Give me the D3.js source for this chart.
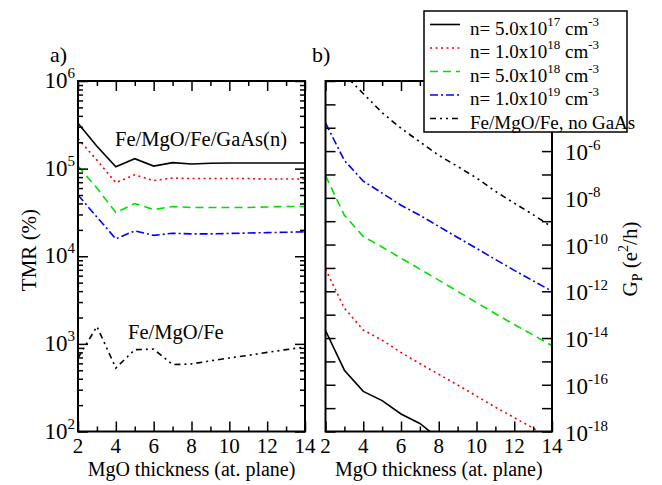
<!DOCTYPE html>
<html>
<head>
<meta charset="utf-8">
<script src="https://cdnjs.cloudflare.com/ajax/libs/d3/7.8.5/d3.min.js"></script>
<style>
body { margin: 0; background: #fff; }
svg text { font-family: "Liberation Serif", "Times New Roman", Times, "DejaVu Serif", serif; }
</style>
</head>
<body>
<svg id="chart" width="662" height="485"></svg>
<script>
// MgO thickness (atomic planes)
var thickness = [2, 3, 4, 5, 6, 7, 8, 9, 10, 11, 12, 13, 14];

// panel a) TMR (%)
var tmr5e17 = [3.3e5, 1.8e5, 1.05e5, 1.3e5, 1.07e5, 1.17e5, 1.13e5, 1.15e5, 1.16e5, 1.16e5, 1.16e5, 1.16e5, 1.16e5];
var tmr1e18 = [2.2e5, 1.25e5, 6.9e4, 8.5e4, 7.3e4, 7.8e4, 7.7e4, 7.7e4, 7.7e4, 7.7e4, 7.6e4, 7.6e4, 7.6e4];
var tmr5e18 = [1.07e5, 6.0e4, 3.15e4, 4.0e4, 3.4e4, 3.7e4, 3.6e4, 3.6e4, 3.6e4, 3.6e4, 3.65e4, 3.7e4, 3.7e4];
var tmr1e19 = [5.0e4, 2.8e4, 1.58e4, 1.95e4, 1.73e4, 1.83e4, 1.8e4, 1.8e4, 1.82e4, 1.84e4, 1.86e4, 1.88e4, 1.9e4];
var tmrNoGaAs = [690, 1580, 530, 860, 870, 580, 590, 640, 690, 740, 800, 860, 920];

// panel b) G_P (e^2/h)
var gp5e17 = [2.1e-14, 4.2e-16, 5.2e-17, 2.1e-17, 5.6e-18, 2.2e-18, 5.0e-19, null, null, null, null, null, null];
var gp1e18 = [8.9e-12, 1.9e-13, 2.2e-14, 8.1e-15, 2.4e-15, 8.1e-16, 2.8e-16, 9.8e-17, 3.3e-17, 1.1e-17, 3.9e-18, 1.4e-18, 4.7e-19];
var gp5e18 = [8.9e-8, 1.8e-9, 2.2e-10, 7.9e-11, 2.6e-11, 8.9e-12, 3.0e-12, 1.0e-12, 3.3e-13, 1.1e-13, 3.8e-14, 1.35e-14, 4.7e-15];
var gp1e19 = [1.6e-5, 4.0e-7, 5.2e-8, 1.6e-8, 4.8e-9, 1.8e-9, 6.0e-10, 2.0e-10, 6.9e-11, 2.3e-11, 7.9e-12, 2.8e-12, 1.0e-12];
var gpNoGaAs = [null, 1.9e-3, 2.9e-4, 4.4e-5, 9.5e-6, 2.5e-6, 6.6e-7, 2.2e-7, 7.1e-8, 1.9e-8, 5.9e-9, 1.9e-9, 5.6e-10];

// legend text: mantissa, exponent
var legendN = [["5.0", "17"], ["1.0", "18"], ["5.0", "18"], ["1.0", "19"]];
var xTicks = [2, 4, 6, 8, 10, 12, 14];
var xMinor = [3, 5, 7, 9, 11, 13];
var tmrTicks = [2, 3, 4, 5, 6];
// 10^-4 sits under the legend, so it is not labelled
var gpTicks = [-6, -8, -10, -12, -14, -16, -18];

var styles = [
    {color: "#000000", dash: null},
    {color: "#ff0000", dash: "2,3.5"},
    {color: "#00e000", dash: "8,5"},
    {color: "#0000ff", dash: "8,3,2,3"},
    {color: "#000000", dash: "6,4,2,4,2,4"}
];

var svg = d3.select("#chart");

var xA = d3.scaleLinear().domain([2, 14]).range([78, 305]);
var yA = d3.scaleLog().domain([1e2, 1e6]).range([431.5, 81]);
var xB = d3.scaleLinear().domain([2, 14]).range([325.5, 552]);
var yB = d3.scaleLog().domain([1e-18, 1e-3]).range([431.5, 81]);

function drawFrame(x, y, minorY) {
    var l = x.range()[0], r = x.range()[1], t = y.range()[1], b = y.range()[0];
    var g = svg.append("g");

    // x ticks top and bottom
    g.append("g").attr("transform", "translate(0," + b + ")")
        .call(d3.axisBottom(x).tickValues(xTicks).tickSize(-10).tickFormat(""));
    g.append("g").attr("transform", "translate(0," + b + ")")
        .call(d3.axisBottom(x).tickValues(xMinor).tickSize(-5).tickFormat(""));
    g.append("g").attr("transform", "translate(0," + t + ")")
        .call(d3.axisTop(x).tickValues(xTicks).tickSize(-10).tickFormat(""));
    g.append("g").attr("transform", "translate(0," + t + ")")
        .call(d3.axisTop(x).tickValues(xMinor).tickSize(-5).tickFormat(""));

    // y ticks, decades big, others small
    var all = y.ticks(40);
    var major = all.filter(function (d) { return Math.abs(Math.log10(d) - Math.round(Math.log10(d))) < 1e-6; });
    var minor = minorY ? all.filter(function (d) { return major.indexOf(d) < 0; }) : [];
    g.append("g").attr("transform", "translate(" + l + ",0)")
        .call(d3.axisLeft(y).tickValues(major).tickSize(-10).tickFormat(""));
    g.append("g").attr("transform", "translate(" + l + ",0)")
        .call(d3.axisLeft(y).tickValues(minor).tickSize(-5).tickFormat(""));
    g.append("g").attr("transform", "translate(" + r + ",0)")
        .call(d3.axisRight(y).tickValues(major).tickSize(-10).tickFormat(""));
    g.append("g").attr("transform", "translate(" + r + ",0)")
        .call(d3.axisRight(y).tickValues(minor).tickSize(-5).tickFormat(""));

    g.selectAll(".domain").remove();
    g.selectAll(".tick line").attr("stroke", "#000").attr("stroke-width", 1.5);

    // x labels
    svg.append("g").selectAll("text").data(xTicks).enter().append("text")
        .attr("x", function (d) { return x(d); })
        .attr("y", 453)
        .attr("text-anchor", "middle")
        .attr("font-size", 21)
        .text(function (d) { return d; });

    svg.append("text")
        .attr("x", (l + r) / 2).attr("y", 476)
        .attr("text-anchor", "middle").attr("font-size", 20)
        .text("MgO thickness (at. plane)");

    return g;
}

function powerLabel(g, px, py, anchor, exp) {
    var t = g.append("text")
        .attr("x", px).attr("y", py)
        .attr("text-anchor", anchor)
        .attr("font-size", 23);
    t.append("tspan").text("10");
    t.append("tspan").attr("dy", -10).attr("font-size", 15).text(exp);
}

function drawSeries(x, y, values, style, clipId) {
    var line = d3.line()
        .defined(function (d) { return d !== null; })
        .x(function (d, i) { return x(thickness[i]); })
        .y(function (d) { return y(d); });
    svg.append("path")
        .datum(values)
        .attr("clip-path", clipId ? "url(#" + clipId + ")" : null)
        .attr("fill", "none")
        .attr("stroke", style.color)
        .attr("stroke-width", 1.6)
        .attr("stroke-dasharray", style.dash)
        .attr("d", line);
}

// clip for panel b
svg.append("defs").append("clipPath").attr("id", "clipB")
    .append("rect").attr("x", 325.5).attr("y", 81).attr("width", 226.5).attr("height", 350.5);

// ---- panel a ----
var seriesA = [tmr5e17, tmr1e18, tmr5e18, tmr1e19, tmrNoGaAs];
for (var i = 0; i < seriesA.length; i++) {
    drawSeries(xA, yA, seriesA[i], styles[i], null);
}
drawFrame(xA, yA, true);
svg.append("rect").attr("x", 78).attr("y", 81).attr("width", 227).attr("height", 350.5)
    .attr("fill", "none").attr("stroke", "#000").attr("stroke-width", 2);

var labelsA = svg.append("g");
tmrTicks.forEach(function (e) {
    powerLabel(labelsA, 75, yA(Math.pow(10, e)) + 7, "end", e);
});

svg.append("text").attr("transform", "translate(36,250) rotate(-90)")
    .attr("text-anchor", "middle").attr("font-size", 21).text("TMR (%)");
svg.append("text").attr("x", 115).attr("y", 146).attr("font-size", 20.5).text("Fe/MgO/Fe/GaAs(n)");
svg.append("text").attr("x", 128).attr("y", 339).attr("font-size", 20.5).text("Fe/MgO/Fe");
svg.append("text").attr("x", 50).attr("y", 62).attr("font-size", 22).text("a)");

// ---- panel b ----
var seriesB = [gp5e17, gp1e18, gp5e18, gp1e19, gpNoGaAs];
for (var j = 0; j < seriesB.length; j++) {
    drawSeries(xB, yB, seriesB[j], styles[j], "clipB");
}
drawFrame(xB, yB, false);
svg.append("rect").attr("x", 325.5).attr("y", 81).attr("width", 226.5).attr("height", 350.5)
    .attr("fill", "none").attr("stroke", "#000").attr("stroke-width", 2);

var labelsB = svg.append("g");
gpTicks.forEach(function (e) {
    powerLabel(labelsB, 565, yB(Math.pow(10, e)) + 9, "start", e);
});

var gpLabel = svg.append("text").attr("transform", "translate(637,259) rotate(-90)")
    .attr("text-anchor", "middle").attr("font-size", 21);
gpLabel.append("tspan").text("G");
gpLabel.append("tspan").attr("dy", 5).attr("font-size", 14).text("P");
gpLabel.append("tspan").attr("dy", -5).text(" (e");
gpLabel.append("tspan").attr("dy", -9).attr("font-size", 14).text("2");
gpLabel.append("tspan").attr("dy", 9).text("/h)");

svg.append("text").attr("x", 312).attr("y", 62).attr("font-size", 22).text("b)");

// ---- legend ----
var leg = svg.append("g").attr("transform", "translate(424,11)");
leg.append("rect").attr("width", 203).attr("height", 121)
    .attr("fill", "#fff").attr("stroke", "#000").attr("stroke-width", 1.5);
for (var k = 0; k < 5; k++) {
    var ly = 13.5 + k * 23.5;
    leg.append("line")
        .attr("x1", 6).attr("x2", 36).attr("y1", ly).attr("y2", ly)
        .attr("stroke", styles[k].color).attr("stroke-width", 1.6)
        .attr("stroke-dasharray", styles[k].dash);
    var lt = leg.append("text").attr("x", 46).attr("y", ly + 10).attr("font-size", 19);
    if (k < 4) {
        lt.append("tspan").text("n= " + legendN[k][0] + "x10");
        lt.append("tspan").attr("dy", -9).attr("font-size", 13).text(legendN[k][1]);
        lt.append("tspan").attr("dy", 9).text(" cm");
        lt.append("tspan").attr("dy", -9).attr("font-size", 13).text("-3");
    } else {
        lt.text("Fe/MgO/Fe, no GaAs");
    }
}
</script>
</body>
</html>
